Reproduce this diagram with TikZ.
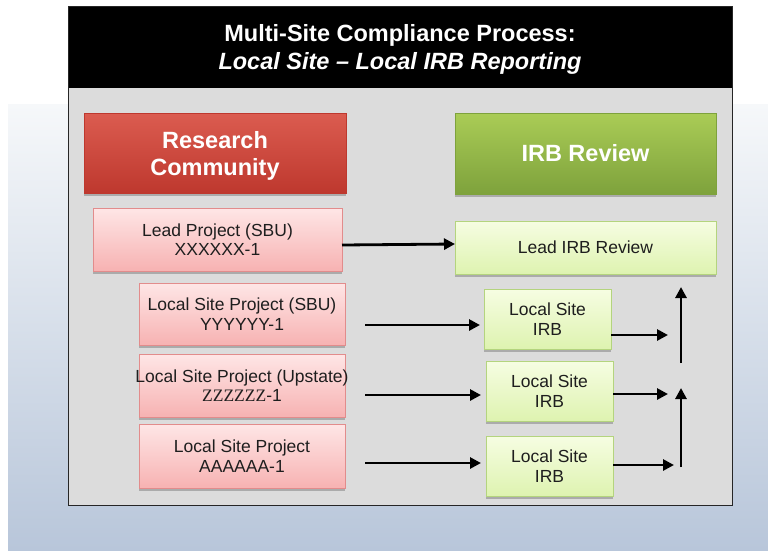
\documentclass[tikz,border=0pt]{standalone}
\usepackage{fontspec}
\setmainfont{Liberation Sans}
\newfontfamily\serifz{Liberation Serif}
\usetikzlibrary{arrows.meta,shadows}

\definecolor{bgtop}{RGB}{246,248,250}
\definecolor{bgbot}{RGB}{184,198,218}
\definecolor{panelgray}{RGB}{220,220,220}
\definecolor{redtop}{RGB}{219,92,80}
\definecolor{redbot}{RGB}{190,56,46}
\definecolor{greentop}{RGB}{170,204,86}
\definecolor{greenbot}{RGB}{126,162,60}
\definecolor{pinktop}{RGB}{254,230,230}
\definecolor{pinkbot}{RGB}{247,178,178}
\definecolor{pinkline}{RGB}{226,140,140}
\definecolor{limetop}{RGB}{246,253,226}
\definecolor{limebot}{RGB}{222,243,176}
\definecolor{limeline}{RGB}{180,212,126}
\definecolor{textdark}{RGB}{30,30,30}

\begin{document}
\begin{tikzpicture}[x=1pt,y=-1pt,
  every node/.style={inner sep=0pt, outer sep=0pt},
  boxbase/.style={rectangle, align=center,
    drop shadow={shadow xshift=0pt, shadow yshift=-3pt, opacity=0.22, fill=black}},
  headred/.style={boxbase, top color=redtop, bottom color=redbot,
    draw=redbot, line width=0.4pt, text=white, text depth=0pt,
    font=\bfseries\fontsize{23.5}{27}\selectfont},
  headgreen/.style={boxbase, top color=greentop, bottom color=greenbot,
    draw=greenbot, line width=0.4pt, text=white,
    font=\bfseries\fontsize{23.5}{27}\selectfont},
  projbox/.style={boxbase, top color=pinktop, bottom color=pinkbot,
    draw=pinkline, line width=1pt, text=textdark,
    font=\fontsize{17.5}{19.5}\selectfont},
  irbbox/.style={boxbase, top color=limetop, bottom color=limebot,
    draw=limeline, line width=1pt, text=textdark,
    font=\fontsize{17.5}{19.5}\selectfont},
  arr/.style={line width=2.8pt, -{Triangle[length=11pt,width=11pt]}},
  titletext/.style={text=white, anchor=base, font=\bfseries\fontsize{23.5}{28}\selectfont}
]
\useasboundingbox (0,0) rectangle (768,550);

% backdrop: white page with a pale blue band
\fill[white] (0,0) rectangle (768,550);
\shade[top color=bgtop, bottom color=bgbot] (8,104) rectangle (768,550);

% panel with black header
\fill[panelgray] (68,88) rectangle (732,505);
\fill[black] (68,6) rectangle (732,88);
\draw[black!85, line width=1pt] (68,6) rectangle (732,505);

\node[titletext] (title1) at (400,41) {Multi-Site Compliance Process:};
\node[titletext] (title2) at (400,69) {\itshape Local Site -- Local IRB Reporting};

% column headings
\node[headred, minimum width=262, minimum height=80] (rc) at (215,153) {Research\\Community};
\node[headgreen, minimum width=261, minimum height=81] (irbrev) at (585.5,153.5) {IRB Review};

% project boxes
\node[projbox, minimum width=249, minimum height=63] (lead) at (217.5,239.5) {Lead Project (SBU)\\XXXXXX-1};
\node[projbox, minimum width=206, minimum height=62] (lsp1) at (242,314) {Local Site Project (SBU)\\YYYYYY-1};
\node[projbox, minimum width=206, minimum height=63, inner xsep=-8pt] (lsp2) at (242,385.5) {Local Site Project (Upstate)\\{\serifz ZZZZZZ}-1};
\node[projbox, minimum width=206, minimum height=64] (lsp3) at (242,456) {Local Site Project\\AAAAAA-1};

% review boxes
\node[irbbox, minimum width=261, minimum height=53] (leadirb) at (585.5,247.5) {Lead IRB Review};
\node[irbbox, minimum width=127, minimum height=60] (irb1) at (547.5,319) {Local Site\\IRB};
\node[irbbox, minimum width=127, minimum height=60] (irb2) at (549.5,391) {Local Site\\IRB};
\node[irbbox, minimum width=127, minimum height=60] (irb3) at (549.5,466) {Local Site\\IRB};

% arrow ends
\coordinate (in1s) at (365,325);
\coordinate (in1e) at (480,325);
\coordinate (in2s) at (365,395);
\coordinate (in2e) at (481,395);
\coordinate (in3s) at (365,463);
\coordinate (in3e) at (481,463);
\coordinate (out1e) at (668,335);
\coordinate (out2e) at (668,394);
\coordinate (out3e) at (674,465);
\coordinate (up1s) at (681,363);
\coordinate (up1e) at (681,287);
\coordinate (up2s) at (681,467);
\coordinate (up2e) at (681,388);

% connectors
\draw[arr] (lead.east |- 0,245) -- (leadirb.west |- 0,244);
\draw[arr] (in1s) -- (in1e);
\draw[arr] (in2s) -- (in2e);
\draw[arr] (in3s) -- (in3e);
\draw[arr] (irb1.east |- out1e) -- (out1e);
\draw[arr] (irb2.east |- out2e) -- (out2e);
\draw[arr] (irb3.east |- out3e) -- (out3e);
\draw[arr] (up1s) -- (up1e);
\draw[arr] (up2s) -- (up2e);
\end{tikzpicture}
\end{document}
